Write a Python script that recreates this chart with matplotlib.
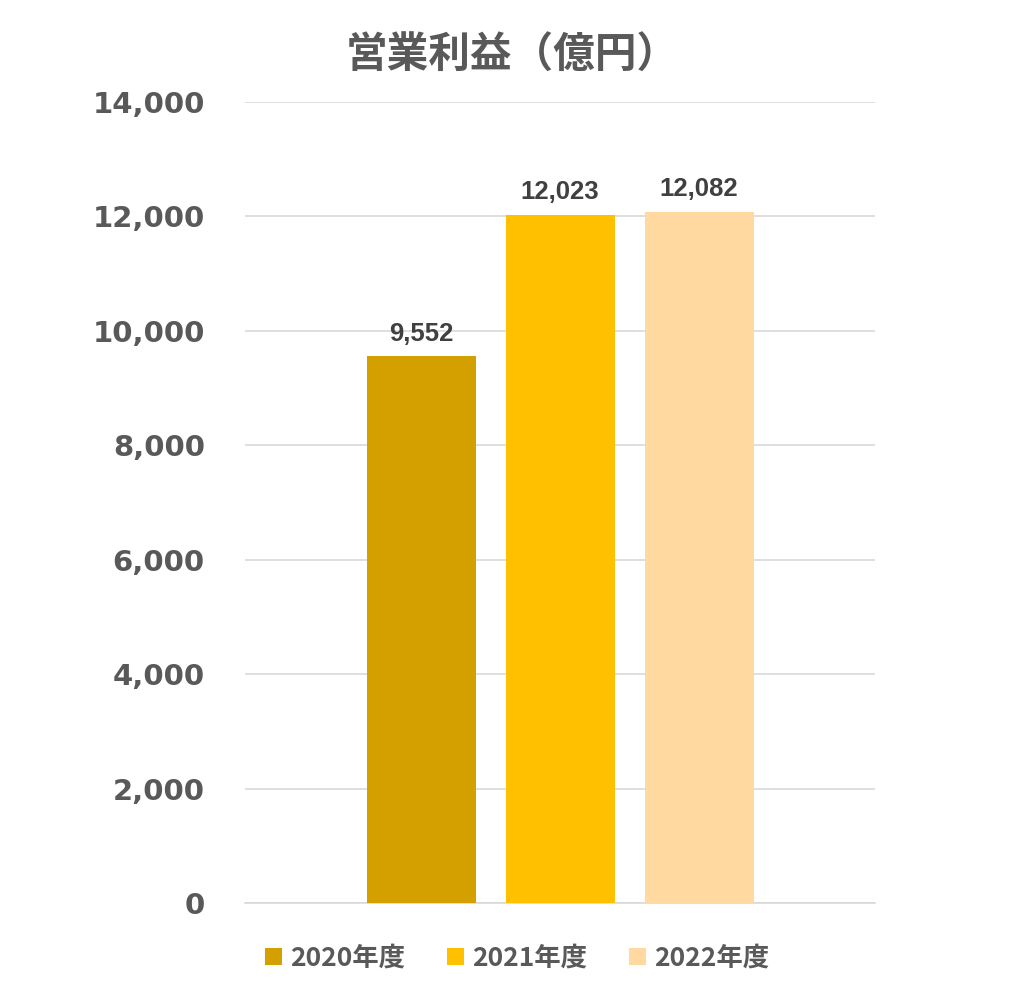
import matplotlib.pyplot as plt
import numpy as np

plt.rcParams['font.family'] = ['DejaVu Sans', 'Noto Sans CJK JP']

years = ['2020年度', '2021年度', '2022年度']
values = [9552, 12023, 12082]
colors = ['#D4A000', '#FFC000', '#FFD9A0']
yticks = [0, 2000, 4000, 6000, 8000, 10000, 12000, 14000]

fig = plt.figure(figsize=(10.24, 9.94), dpi=100)
ax = fig.add_axes([0.2393, 0.0915, 0.6152, 0.8059])

pos = np.arange(len(values)) - 1
for p, v, c, lab in zip(pos, values, colors, years):
    ax.bar(p, v, width=0.784, color=c, label=lab, zorder=3)
    ax.text(p, v + 190, f'{v:,}', ha='center', va='bottom', fontsize=18.5,
            fontweight='bold', color='#404040', family=['Liberation Sans'])

ax.set_xlim(-2.266, 2.266)
ax.set_ylim(0, 14000)
ax.set_yticks(yticks)
ax.set_yticklabels([f'{t:,}' for t in yticks], fontsize=21, fontweight='bold', color='#595959')
ax.tick_params(axis='y', length=0, pad=29)
ax.set_xticks([])
ax.grid(axis='y', color='#D9D9D9', linewidth=1.2, zorder=0)
for s in ['top', 'right', 'left']:
    ax.spines[s].set_visible(False)
ax.spines['bottom'].set_color('#D9D9D9')
ax.spines['bottom'].set_linewidth(1.2)

fig.text(0.5, 0.944, '営業利益（億円）', ha='center', va='center', fontsize=30,
         fontweight='bold', color='#595959', family=['Noto Sans CJK JP'])

leg = fig.legend(loc='center', bbox_to_anchor=(0.505, 0.036), ncol=3, frameon=False,
                 handlelength=0.65, handleheight=0.65, handletextpad=0.3, columnspacing=1.6,
                 prop={'family': ['Noto Sans CJK JP'], 'weight': 'bold', 'size': 19})
for t in leg.get_texts():
    t.set_color('#595959')

plt.savefig('out.png')
